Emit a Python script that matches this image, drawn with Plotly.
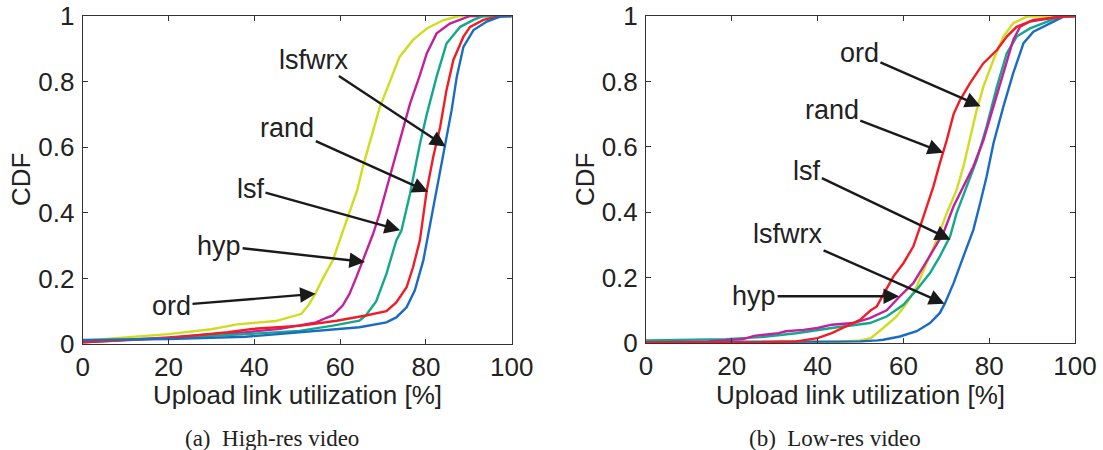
import plotly.graph_objects as go

# ---------------- data: (a) High-res video ----------------
hi_ord_x = [0, 12, 20, 30, 36, 45, 49.5, 51, 52.7, 54, 56, 58.3, 60, 62.2, 64, 65.3, 67, 69.2, 71.6, 73.9, 77, 80.2, 84, 87.6, 100]
hi_ord_y = [0.01, 0.022, 0.03, 0.045, 0.06, 0.07, 0.085, 0.092, 0.12, 0.148, 0.20, 0.255, 0.32, 0.40, 0.47, 0.54, 0.62, 0.72, 0.80, 0.876, 0.927, 0.962, 0.987, 1.0, 1.0]

hi_hyp_x = [0, 10, 20, 30, 38, 46, 50.5, 54.4, 56.8, 58.3, 60.6, 62.2, 63.8, 65.3, 67.7, 69.2, 71.6, 73.9, 76.3, 78.6, 80.2, 82.5, 85.6, 90.3, 100]
hi_hyp_y = [0.005, 0.012, 0.02, 0.03, 0.036, 0.046, 0.056, 0.066, 0.08, 0.087, 0.117, 0.153, 0.204, 0.255, 0.336, 0.397, 0.51, 0.62, 0.733, 0.82, 0.886, 0.947, 0.977, 1.0, 1.0]

hi_lsf_x = [0, 20, 38, 50.5, 58.3, 64.5, 66, 68.4, 70.8, 73.1, 74.3, 76.3, 78.6, 80.2, 82.5, 84.8, 88, 91.1, 93.4, 100]
hi_lsf_y = [0.01, 0.018, 0.03, 0.04, 0.056, 0.071, 0.087, 0.13, 0.214, 0.316, 0.346, 0.458, 0.61, 0.70, 0.815, 0.916, 0.967, 0.988, 1.0, 1.0]

hi_rand_x = [0, 20, 33.8, 39.6, 51, 59.2, 66, 70.8, 73.1, 75.5, 77, 78.6, 80.2, 81.7, 83.3, 84.8, 86.4, 88.75, 90.3, 93.4, 97.3, 100]
hi_rand_y = [0.005, 0.018, 0.036, 0.046, 0.056, 0.071, 0.087, 0.10, 0.127, 0.173, 0.234, 0.316, 0.468, 0.57, 0.66, 0.774, 0.866, 0.937, 0.967, 0.988, 1.0, 1.0]

hi_lsfwrx_x = [0, 20, 38, 50.5, 58.3, 64.5, 70.8, 73.1, 75.5, 77.4, 79.4, 81.3, 82.9, 84.45, 86, 87.2, 88.75, 91.1, 94.2, 97.3, 100]
hi_lsfwrx_y = [0.012, 0.015, 0.022, 0.036, 0.046, 0.051, 0.066, 0.081, 0.112, 0.163, 0.255, 0.387, 0.489, 0.60, 0.713, 0.815, 0.906, 0.957, 0.983, 0.998, 1.0]

# ---------------- data: (b) Low-res video ----------------
lo_ord_x = [0, 20, 45, 49.9, 52.4, 55.3, 58.4, 60.8, 63.1, 65.4, 67.8, 70.1, 72.4, 74, 75.5, 77.1, 78.65, 81, 83.3, 85.6, 88.75, 100]
lo_ord_y = [0.002, 0.002, 0.004, 0.008, 0.015, 0.046, 0.081, 0.122, 0.173, 0.244, 0.316, 0.397, 0.468, 0.54, 0.62, 0.713, 0.784, 0.866, 0.937, 0.978, 0.998, 1.0]

lo_rand_x = [0, 26.8, 35, 40, 43.3, 46.6, 49.9, 52.4, 53.8, 55.3, 57.7, 60, 62.3, 63.9, 65.4, 67, 68.5, 70.1, 71.7, 73.2, 75.5, 78.6, 81.8, 84.1, 86.4, 90.3, 97.3, 100]
lo_rand_y = [0.002, 0.002, 0.005, 0.015, 0.03, 0.05, 0.071, 0.10, 0.112, 0.148, 0.204, 0.244, 0.295, 0.356, 0.418, 0.479, 0.55, 0.62, 0.70, 0.743, 0.794, 0.855, 0.896, 0.937, 0.967, 0.988, 0.998, 1.0]

lo_hyp_x = [0, 14.4, 22.7, 25.2, 30.9, 32.6, 36.7, 40, 43.3, 48.3, 52.2, 56.1, 59.2, 62.3, 64.7, 67, 69.3, 71.7, 74, 76.3, 78.65, 81, 83.3, 85.6, 87.2, 89.5, 94.2, 97.3, 100]
lo_hyp_y = [0.002, 0.005, 0.012, 0.022, 0.03, 0.036, 0.04, 0.046, 0.056, 0.061, 0.076, 0.10, 0.143, 0.183, 0.234, 0.285, 0.336, 0.418, 0.479, 0.54, 0.62, 0.723, 0.825, 0.927, 0.967, 0.983, 0.993, 1.0, 1.0]

lo_lsf_x = [0, 18.6, 26.8, 35, 43.3, 49.9, 52.2, 56.1, 60, 63.1, 66.2, 68.5, 70.9, 72.4, 74.8, 77.1, 79.4, 81.8, 84.1, 86.4, 89.5, 92.6, 96.5, 100]
lo_lsf_y = [0.008, 0.012, 0.018, 0.03, 0.046, 0.056, 0.061, 0.081, 0.117, 0.163, 0.214, 0.265, 0.326, 0.397, 0.479, 0.56, 0.662, 0.784, 0.886, 0.937, 0.962, 0.978, 0.998, 1.0]

lo_lsfwrx_x = [0, 50, 54, 55.3, 59.2, 63.1, 66.2, 68.5, 69.7, 71.7, 74, 76.3, 77.9, 79.4, 81, 83.3, 85.6, 88, 90.3, 93.4, 97.3, 100]
lo_lsfwrx_y = [0.002, 0.005, 0.008, 0.01, 0.02, 0.036, 0.061, 0.092, 0.122, 0.183, 0.265, 0.346, 0.428, 0.509, 0.611, 0.723, 0.825, 0.917, 0.952, 0.973, 0.998, 1.0]

x_ticks = [0, 20, 40, 60, 80, 100]
y_ticks = [0, 0.2, 0.4, 0.6, 0.8, 1]
y_tick_labels = ["0", "0.2", "0.4", "0.6", "0.8", "1"]

# label: (text, tip_x, tip_y, text_x, text_y)
hi_labels = [
    ("lsfwrx", 84.6, 0.602, 53.9, 0.867),
    ("rand", 80.5, 0.464, 47.7, 0.658),
    ("lsf", 74.0, 0.347, 39.1, 0.474),
    ("hyp", 65.8, 0.25, 31.8, 0.30),
    ("ord", 54.3, 0.153, 20.7, 0.117),
]
lo_labels = [
    ("ord", 78.0, 0.724, 49.75, 0.886),
    ("rand", 69.3, 0.582, 43.3, 0.714),
    ("lsf", 71.0, 0.316, 37.5, 0.526),
    ("lsfwrx", 69.6, 0.12, 33.0, 0.332),
    ("hyp", 59.0, 0.143, 25.2, 0.143),
]

colors = {
    "ord": "#D0DC1E",
    "hyp": "#C2209C",
    "lsf": "#12A88C",
    "rand": "#F21C24",
    "lsfwrx": "#1A6CC2",
}

W, H = 1103, 450
TXT = "#222222"
SANS = "Liberation Sans, Arial, Helvetica, sans-serif"
SERIF = "Liberation Serif, Times New Roman, serif"

fig = go.Figure()

hi_series = [("ord", hi_ord_x, hi_ord_y), ("hyp", hi_hyp_x, hi_hyp_y), ("lsf", hi_lsf_x, hi_lsf_y),
             ("rand", hi_rand_x, hi_rand_y), ("lsfwrx", hi_lsfwrx_x, hi_lsfwrx_y)]
lo_series = [("ord", lo_ord_x, lo_ord_y), ("lsf", lo_lsf_x, lo_lsf_y), ("hyp", lo_hyp_x, lo_hyp_y),
             ("lsfwrx", lo_lsfwrx_x, lo_lsfwrx_y), ("rand", lo_rand_x, lo_rand_y)]

for name, xs, ys in hi_series:
    fig.add_trace(go.Scatter(x=xs, y=ys, mode="lines", name=name, showlegend=False,
                             line=dict(color=colors[name], width=2.4), xaxis="x", yaxis="y"))
for name, xs, ys in lo_series:
    fig.add_trace(go.Scatter(x=xs, y=ys, mode="lines", name=name, showlegend=False,
                             line=dict(color=colors[name], width=2.4), xaxis="x2", yaxis="y2"))

def px_x(p):
    return p / W

def px_y(p):
    return 1 - p / H

axis_common = dict(
    showline=True, linecolor="#333333", linewidth=1, mirror="ticks",
    ticks="inside", ticklen=5, tickcolor="#333333", tickwidth=1,
    showgrid=False, zeroline=False, automargin=False,
    tickfont=dict(family=SANS, size=26, color=TXT),
)

fig.update_layout(
    width=W, height=H,
    margin=dict(l=0, r=0, t=0, b=0, pad=0, autoexpand=False),
    paper_bgcolor="white", plot_bgcolor="white",
    xaxis=dict(domain=[px_x(82.7), px_x(511.7)], range=[0, 100], tickvals=x_ticks,
               anchor="y", ticklabelstandoff=0, **axis_common),
    yaxis=dict(domain=[px_y(344), px_y(16)], range=[0, 1], tickvals=y_ticks, ticktext=y_tick_labels,
               anchor="x", ticklabelstandoff=2, **axis_common),
    xaxis2=dict(domain=[px_x(646), px_x(1075)], range=[0, 100], tickvals=x_ticks,
                anchor="y2", ticklabelstandoff=0, **axis_common),
    yaxis2=dict(domain=[px_y(343), px_y(16)], range=[0, 1], tickvals=y_ticks, ticktext=y_tick_labels,
                anchor="x2", ticklabelstandoff=2, **axis_common),
)

annotations = []
for labels, xr, yr in [(hi_labels, "x", "y"), (lo_labels, "x2", "y2")]:
    for text, tx, ty, lx, ly in labels:
        annotations.append(dict(
            x=tx, y=ty, xref=xr, yref=yr,
            ax=lx, ay=ly, axref=xr, ayref=yr,
            text=text, showarrow=True,
            arrowhead=2, arrowsize=1.3, arrowwidth=2.4, arrowcolor="#1a1a1a",
            standoff=0, startstandoff=0,
            font=dict(family=SANS, size=27, color=TXT),
        ))

# axis titles
for cx in (297.2, 860.5):
    annotations.append(dict(x=px_x(cx), y=px_y(395), xref="paper", yref="paper",
                            text="Upload link utilization [%]", showarrow=False,
                            xanchor="center", yanchor="middle",
                            font=dict(family=SANS, size=26, color=TXT)))
for cx in (21, 585):
    annotations.append(dict(x=px_x(cx), y=px_y(180), xref="paper", yref="paper",
                            text="CDF", showarrow=False, textangle=-90,
                            xanchor="center", yanchor="middle",
                            font=dict(family=SANS, size=26, color=TXT)))
# captions
annotations.append(dict(x=px_x(272), y=px_y(438), xref="paper", yref="paper",
                        text="(a)\u2002High-res video", showarrow=False,
                        xanchor="center", yanchor="middle",
                        font=dict(family=SERIF, size=23, color=TXT)))
annotations.append(dict(x=px_x(835), y=px_y(438), xref="paper", yref="paper",
                        text="(b)\u2002Low-res video", showarrow=False,
                        xanchor="center", yanchor="middle",
                        font=dict(family=SERIF, size=23, color=TXT)))

fig.update_layout(annotations=annotations)

fig.write_html(
    "out.html",
    config={"displayModeBar": False},
    post_script="document.body.style.margin='0';document.body.style.padding='0';document.body.style.overflow='hidden';",
)
